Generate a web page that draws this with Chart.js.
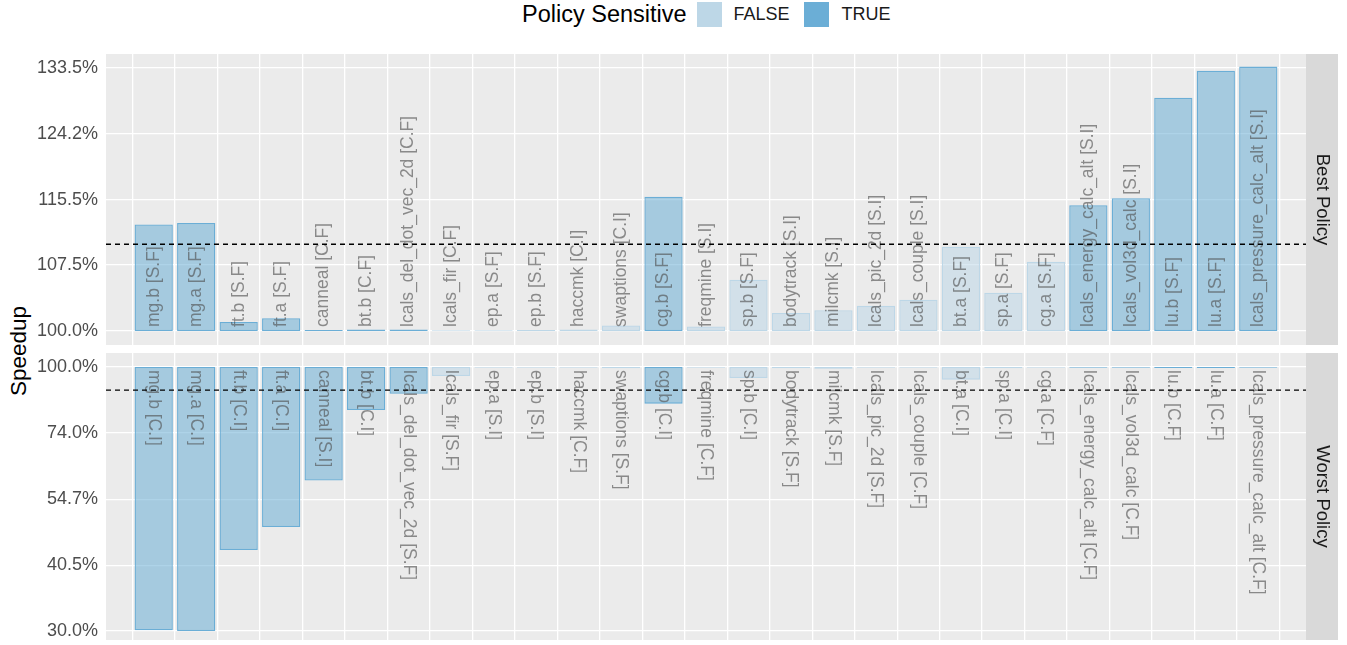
<!DOCTYPE html>
<html>
<head>
<meta charset="utf-8">
<script src="https://cdn.jsdelivr.net/npm/chart.js@4.4.1/dist/chart.umd.min.js"></script>
<style>
  body { margin: 0; background: #fff; font-family: "Liberation Sans", Arial, sans-serif; }
  #wrap { position: relative; width: 1347px; height: 645px; overflow: hidden; }
  #cBest { position: absolute; left: 0; top: 0; }
  #cWorst { position: absolute; left: 0; top: 349px; }
  #legend { position: absolute; left: 522px; top: 2px; height: 25px; display: flex; align-items: center; color: #000; }
  #legend .ttl { font-size: 23.5px; margin-right: 10px; }
  #legend .key { width: 25px; height: 25px; }
  #legend .lab { font-size: 18px; color: #1a1a1a; }
  #ylab { position: absolute; left: 19px; top: 351px; transform: translate(-50%, -50%) rotate(-90deg); font-size: 22.5px; white-space: nowrap; }
</style>
</head>
<body>
<div id="wrap">
  <div id="legend">
    <span class="ttl">Policy Sensitive</span>
    <span class="key" style="background:#bdd7e7"></span>
    <span class="lab" style="margin-left:12px;margin-right:14px">FALSE</span>
    <span class="key" style="background:#6baed6"></span>
    <span class="lab" style="margin-left:13px">TRUE</span>
  </div>
  <div id="ylab">Speedup</div>
  <canvas id="cBest" width="1347" height="349"></canvas>
  <canvas id="cWorst" width="1347" height="296"></canvas>
</div>
<script>
"use strict";

// benchmarks (orden del eje x)
const benchmarks = ["mg.b", "mg.a", "ft.b", "ft.a", "canneal", "bt.b", "lcals_del_dot_vec_2d", "lcals_fir",
  "ep.a", "ep.b", "haccmk", "swaptions", "cg.b", "freqmine", "sp.b", "bodytrack", "milcmk", "lcals_pic_2d",
  "lcals_couple", "bt.a", "sp.a", "cg.a", "lcals_energy_calc_alt", "lcals_vol3d_calc", "lu.b", "lu.a",
  "lcals_pressure_calc_alt"];

const policySensitive = [true, true, true, true, true, true, true, false,
  false, false, false, false, true, false, false, false, false, false,
  false, false, false, false, true, true, true, true,
  true];

// configuracion de la mejor / peor politica
const bestConfig = ["S.F", "S.F", "S.F", "S.F", "C.F", "C.F", "C.F", "C.F",
  "S.F", "S.F", "C.I", "C.I", "S.F", "S.I", "S.F", "S.I", "S.I", "S.I",
  "S.I", "S.F", "S.F", "S.F", "S.I", "S.I", "S.F", "S.F",
  "S.I"];
const worstConfig = ["C.I", "C.I", "C.I", "C.I", "S.I", "C.I", "S.F", "S.F",
  "S.I", "S.I", "C.F", "S.F", "C.I", "C.F", "C.I", "S.F", "S.F", "S.F",
  "C.F", "C.I", "C.I", "C.F", "C.F", "C.F", "C.F", "C.F",
  "C.F"];

// speedup en %
const bestSpeedup = [112.4, 112.6, 101.0, 101.4, 100.1, 100.15, 100.15, 100.08,
  100.08, 100.1, 100.15, 100.6, 115.9, 100.5, 105.8, 102.0, 102.3, 102.8,
  103.5, 109.7, 104.3, 107.9, 114.8, 115.7, 129.2, 133.1,
  133.7];
const worstSpeedup = [30.1, 30.0, 43.4, 48.2, 59.6, 82.2, 88.5, 96.0,
  99.6, 99.6, 99.6, 99.4, 84.6, 99.6, 95.1, 99.4, 99.2, 99.6,
  99.7, 94.4, 99.4, 99.7, 99.6, 99.6, 99.5, 99.5,
  99.6];

const bestTicks = [100.0, 107.5, 115.5, 124.2, 133.5];
const worstTicks = [30.0, 40.5, 54.7, 74.0, 100.0];

// limites de los ejes y lineas de referencia
const bestRange = [98.47, 135.56];
const worstRange = [28.79, 106.59];
const bestRef = 110.0;
const worstRef = 90.0;

const fuente = '"Liberation Sans", Arial, sans-serif';

function crearPanel(canvasId, valores, configs, ticks, rango, ref, tituloStrip, arriba) {
  const decor = {
    id: "decor",
    beforeDraw(chart) {
      const a = chart.chartArea;
      const ctx = chart.ctx;
      ctx.save();
      ctx.fillStyle = "#ebebeb";
      ctx.fillRect(a.left, a.top, a.right - a.left, a.bottom - a.top);
      ctx.restore();
    },
    afterDatasetsDraw(chart) {
      const a = chart.chartArea;
      const ctx = chart.ctx;
      const xs = chart.scales.x;
      const ys = chart.scales.y;
      const base = ys.getPixelForValue(100);
      ctx.save();
      ctx.font = "17.5px " + fuente;
      ctx.fillStyle = "rgba(77,77,77,0.62)";
      ctx.textAlign = "left";
      ctx.textBaseline = "middle";
      benchmarks.forEach((b, i) => {
        const x = xs.getPixelForValue(i);
        ctx.save();
        if (arriba) {
          ctx.translate(x, base - 4);
          ctx.rotate(-Math.PI / 2);
        } else {
          ctx.translate(x, base + 3);
          ctx.rotate(Math.PI / 2);
        }
        ctx.fillText(b + " [" + configs[i] + "]", 0, 0);
        ctx.restore();
      });
      // linea de referencia
      const yr = ys.getPixelForValue(ref);
      ctx.strokeStyle = "#000";
      ctx.lineWidth = 1.4;
      ctx.setLineDash([5, 4]);
      ctx.beginPath();
      ctx.moveTo(a.left, yr);
      ctx.lineTo(a.right, yr);
      ctx.stroke();
      ctx.restore();
    },
    afterDraw(chart) {
      const a = chart.chartArea;
      const ctx = chart.ctx;
      ctx.save();
      ctx.fillStyle = "#d9d9d9";
      ctx.fillRect(a.right, a.top, 32, a.bottom - a.top);
      ctx.translate(a.right + 16, (a.top + a.bottom) / 2);
      ctx.rotate(Math.PI / 2);
      ctx.fillStyle = "#1a1a1a";
      ctx.font = "18.5px " + fuente;
      ctx.textAlign = "center";
      ctx.textBaseline = "middle";
      ctx.fillText(tituloStrip, 0, 0);
      ctx.restore();
    }
  };

  return new Chart(document.getElementById(canvasId), {
    type: "bar",
    data: {
      datasets: [{
        label: tituloStrip,
        data: valores.map((v, i) => ({ x: i, y: [100, v] })),
        backgroundColor: policySensitive.map(p => p ? "rgba(107,174,214,0.55)" : "rgba(189,215,231,0.55)"),
        borderColor: policySensitive.map(p => p ? "#6baed6" : "#bdd7e7"),
        borderWidth: 1.3,
        borderSkipped: false,
        barPercentage: 0.9,
        categoryPercentage: 1.0
      }]
    },
    options: {
      responsive: false,
      animation: false,
      layout: { padding: { left: 0, right: 41, top: arriba ? 54 : 4, bottom: arriba ? 4 : 5 } },
      plugins: { legend: { display: false }, tooltip: { enabled: false } },
      scales: {
        x: {
          type: "linear",
          min: -0.6,
          max: benchmarks.length - 0.4,
          afterBuildTicks: s => { s.ticks = benchmarks.map((b, i) => ({ value: i })); },
          afterFit: s => { s.height = 0; s.paddingLeft = 0; s.paddingRight = 0; },
          ticks: { display: false },
          grid: { color: "#ffffff", lineWidth: 1.3, drawTicks: false },
          border: { display: false }
        },
        y: {
          type: "logarithmic",
          min: rango[0],
          max: rango[1],
          afterBuildTicks: s => { s.ticks = ticks.map(v => ({ value: v })); },
          afterFit: s => { s.width = 106; s.paddingTop = 0; s.paddingBottom = 0; },
          ticks: {
            autoSkip: false,
            padding: 8,
            color: "#4d4d4d",
            font: { size: 18, family: fuente },
            callback: v => Number(v).toFixed(1) + "%"
          },
          grid: { color: "#ffffff", lineWidth: 1.3, drawTicks: false },
          border: { display: false }
        }
      }
    },
    plugins: [decor]
  });
}

crearPanel("cBest", bestSpeedup, bestConfig, bestTicks, bestRange, bestRef, "Best Policy", true);
crearPanel("cWorst", worstSpeedup, worstConfig, worstTicks, worstRange, worstRef, "Worst Policy", false);
</script>
</body>
</html>
